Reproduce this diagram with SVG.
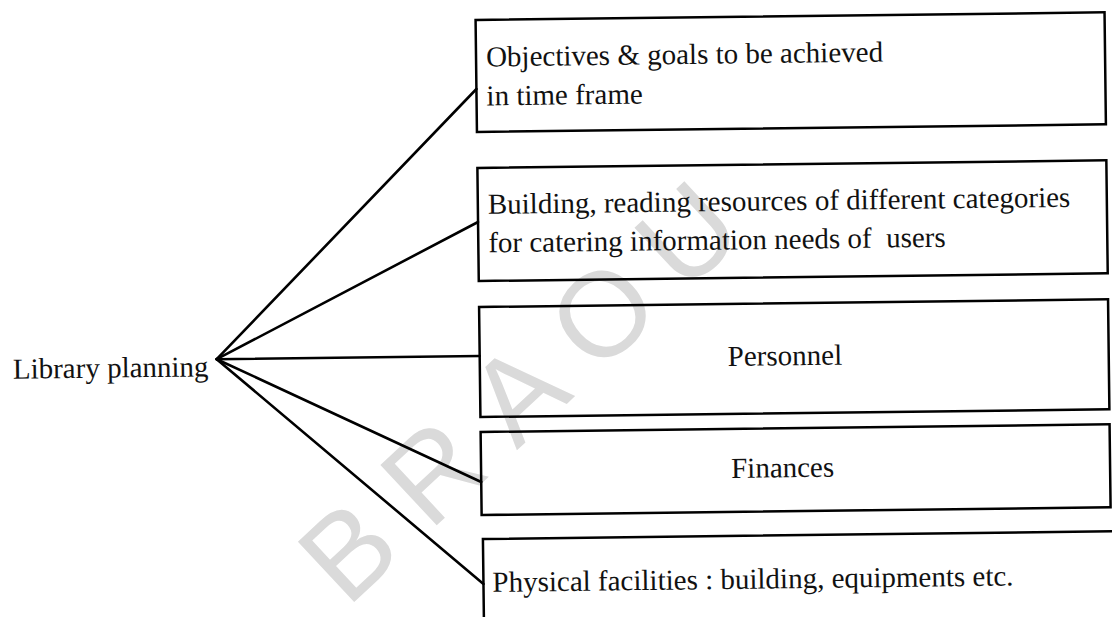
<svg xmlns="http://www.w3.org/2000/svg" width="1112" height="617" viewBox="0 0 1112 617">
<style>
.box{fill:none;stroke:#000;stroke-width:2.5}
.lbl{font-family:"Liberation Serif","Times New Roman",serif;font-size:29px;fill:#111}
.root{font-family:"Liberation Serif","Times New Roman",serif;font-size:29px;fill:#111}
.conn line{stroke:#000;stroke-width:2.6;stroke-linecap:round}
.wm{font-family:"Liberation Sans",Arial,sans-serif;font-size:120px;fill:#dadada}
</style>
<rect width="1112" height="617" fill="#fff"/>
<g id="watermark" transform="translate(347,550) rotate(-43)">
<text class="wm" x="0 116 232 348 464" y="43" text-anchor="middle">BRAOU</text>
</g>
<g transform="rotate(-0.7 478 300)">
<g id="connectors" class="conn">
<line x1="216" y1="356" x2="479" y2="89"/>
<line x1="216" y1="356" x2="479" y2="222"/>
<line x1="216" y1="356" x2="479" y2="356"/>
<line x1="216" y1="356" x2="479" y2="482"/>
<line x1="216" y1="356" x2="480" y2="584"/>
</g>
<g id="library-planning">
<text class="root" x="12" y="373">Library planning</text>
</g>
<g id="objectives">
<rect class="box" x="479" y="20" width="629" height="112"/>
<text class="lbl" x="489" y="66.5">Objectives &amp; goals to be achieved</text>
<text class="lbl" x="489" y="105.5">in time frame</text>
</g>
<g id="resources">
<rect class="box" x="479" y="168" width="629" height="113"/>
<text class="lbl" x="489" y="214">Building, reading resources of different categories</text>
<text class="lbl" x="489" y="252.5" xml:space="preserve">for catering information needs of  users</text>
</g>
<g id="personnel">
<rect class="box" x="479" y="307" width="629" height="110"/>
<text class="lbl" x="727" y="369">Personnel</text>
</g>
<g id="finances">
<rect class="box" x="479" y="432" width="629" height="83"/>
<text class="lbl" x="729" y="481">Finances</text>
</g>
<g id="physical-facilities">
<rect class="box" x="480" y="539" width="660" height="120"/>
<text class="lbl" x="489" y="592">Physical facilities : building, equipments etc.</text>
</g>
</g>
</svg>
